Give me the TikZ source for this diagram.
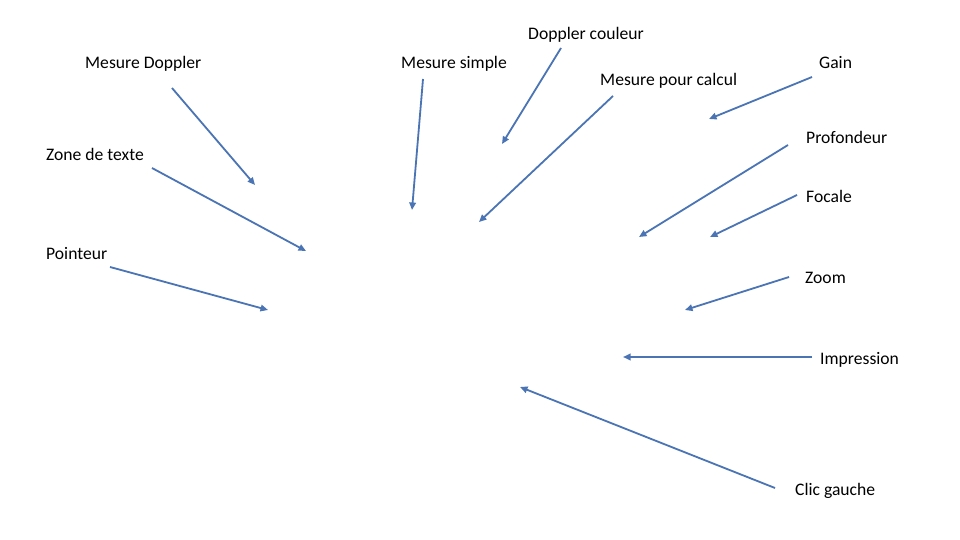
\documentclass[tikz,border=0pt]{standalone}
\usepackage{fontspec}
\setmainfont{Carlito}
\usepackage{tikz}
\usetikzlibrary{arrows.meta}
\definecolor{echoblue}{HTML}{4A74B4}

\begin{document}
\begin{tikzpicture}[x=1pt, y=-1pt,
		legende/.style={anchor=west, inner sep=0pt, text height=12pt, text depth=4pt, font=\fontsize{17.6}{20}\selectfont},
		fleche/.style={draw=echoblue, line width=1.8pt, -{Triangle[length=7.5pt,width=6.5pt]}}]
	\useasboundingbox[fill=white] (0,0) rectangle (960,540);
	% legendes
	\node[legende] (doppler)    at (85,64.5)   {Mesure Doppler};
	\node[legende] (zone)       at (46,156.5)  {Zone de texte};
	\node[legende] (pointeur)   at (46,255.5)  {Pointeur};
	\node[legende] (simple)     at (401,64.5)  {Mesure simple};
	\node[legende] (couleur)    at (528,35.5)  {Doppler couleur};
	\node[legende] (calcul)     at (600,81.5)  {Mesure pour calcul};
	\node[legende] (gain)       at (819,64.5)  {Gain};
	\node[legende] (profondeur) at (806,139.5) {Profondeur};
	\node[legende] (focale)     at (806,198.5) {Focale};
	\node[legende] (zoom)       at (805,279.5) {Zoom};
	\node[legende] (impression) at (820,360.5) {Impression};
	\node[legende] (clic)       at (795,491.5) {Clic gauche};
	% departs et cibles des fleches
	\coordinate (dopplerD) at (172,88);    \coordinate (dopplerC) at (255,185);
	\coordinate (zoneD) at (152,168);      \coordinate (zoneC) at (306,251);
	\coordinate (pointeurD) at (110,267);  \coordinate (pointeurC) at (268,310);
	\coordinate (simpleD) at (423,79);     \coordinate (simpleC) at (412,210);
	\coordinate (couleurD) at (561,48);    \coordinate (couleurC) at (502,144);
	\coordinate (calculD) at (613,96);     \coordinate (calculC) at (479,222);
	\coordinate (gainD) at (812,77);       \coordinate (gainC) at (709,119);
	\coordinate (profondeurD) at (788,145); \coordinate (profondeurC) at (639,237);
	\coordinate (focaleD) at (797,195);    \coordinate (focaleC) at (710,237);
	\coordinate (zoomD) at (789,277);      \coordinate (zoomC) at (685,310);
	\coordinate (impressionD) at (812,357); \coordinate (impressionC) at (623,357);
	\coordinate (clicD) at (775,488);      \coordinate (clicC) at (520,387);
	% fleches
	\foreach \n in {doppler,zone,pointeur,simple,couleur,calcul,gain,profondeur,focale,zoom,impression,clic}
		\draw[fleche] (\n D) -- (\n C);
\end{tikzpicture}
\end{document}
